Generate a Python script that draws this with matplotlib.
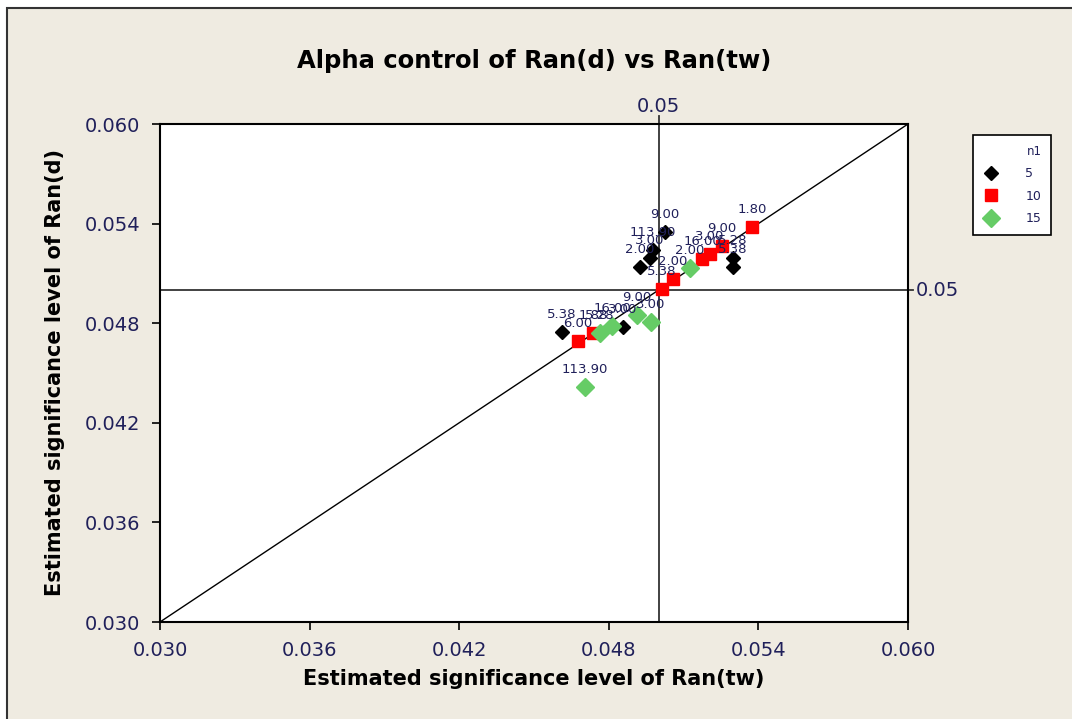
import matplotlib.pyplot as plt
from matplotlib.lines import Line2D
from matplotlib.patches import Rectangle

# Estimated significance levels, grouped by n1
tw_5 = [0.05025, 0.05298, 0.05298, 0.04925, 0.04965, 0.04977, 0.04612, 0.04857]
d_5 = [0.05349, 0.05193, 0.05139, 0.05139, 0.05193, 0.05241, 0.04747, 0.04777]
lab_5 = ["9.00", "5.28", "5.38", "2.00", "3.00", "113.90", "5.38", "3.00"]

tw_10 = [0.04676, 0.04737, 0.05013, 0.05058, 0.05174, 0.05206, 0.05254, 0.05374]
d_10 = [0.04693, 0.04741, 0.05006, 0.05066, 0.05187, 0.05217, 0.05265, 0.05380]
lab_10 = ["6.00", "1.88", "5.38", "2.00", "16.00", "3.00", "9.00", "1.80"]

tw_15 = [0.04705, 0.04765, 0.04813, 0.04913, 0.04969, 0.05126]
d_15 = [0.04416, 0.04741, 0.04783, 0.04849, 0.04807, 0.05132]
lab_15 = ["113.90", "5.28", "16.00", "9.00", "3.00", "2.00"]

ticks = [0.030, 0.036, 0.042, 0.048, 0.054, 0.060]
alpha = 0.05

bg = "#EFEBE1"
txt = "#20205a"

fig = plt.figure(figsize=(10.72, 7.19), dpi=100, facecolor="white")
fig.patches.append(Rectangle((7 / 1072, -0.05), 1.1, 1 - 8 / 719 + 0.05,
                             transform=fig.transFigure, facecolor=bg,
                             edgecolor="#333333", linewidth=1.5, zorder=-10))

ax = fig.add_axes([160 / 1072, 97 / 719, 748 / 1072, 498 / 719])
ax.set_facecolor("white")
ax.set_xlim(0.030, 0.060)
ax.set_ylim(0.030, 0.060)
ax.set_xticks(ticks)
ax.set_yticks(ticks)
ax.set_xticklabels(["%.3f" % t for t in ticks])
ax.set_yticklabels(["%.3f" % t for t in ticks])
ax.tick_params(direction="out", length=6, width=1.2, labelsize=14,
               labelcolor=txt, pad=8)
for s in ax.spines.values():
    s.set_linewidth(1.5)

# reference lines
ax.plot([0.030, 0.060], [0.030, 0.060], color="black", linewidth=1, zorder=1)
ax.plot([alpha, alpha], [0.030, 0.0605], color="#333333", linewidth=1.3,
        clip_on=False, zorder=1)
ax.plot([0.030, 0.0602], [alpha, alpha], color="#333333", linewidth=1.3,
        clip_on=False, zorder=1)
ax.text(alpha, 0.0605, "0.05", ha="center", va="bottom", fontsize=14, color=txt)
ax.text(0.0603, alpha, "0.05", ha="left", va="center", fontsize=14, color=txt)

groups = [
    (tw_5, d_5, lab_5, "black", "D", 7),
    (tw_10, d_10, lab_10, "#FF0000", "s", 9),
    (tw_15, d_15, lab_15, "#66CC66", "D", 9),
]
for xs, ys, labs, col, mk, ms in groups:
    ax.plot(xs, ys, linestyle="none", marker=mk, color=col, markersize=ms,
            zorder=3)
    for x, y, lab in zip(xs, ys, labs):
        ax.annotate(lab, (x, y), xytext=(0, 8), textcoords="offset points",
                    ha="center", va="bottom", fontsize=9.5, color=txt, zorder=4)

ax.set_title("Alpha control of Ran(d) vs Ran(tw)", fontsize=17.5,
             fontweight="bold", pad=40)
ax.set_xlabel("Estimated significance level of Ran(tw)", fontsize=15,
              fontweight="bold", labelpad=6)
ax.set_ylabel("Estimated significance level of Ran(d)", fontsize=15,
              fontweight="bold", labelpad=14)

handles = [
    Line2D([], [], linestyle="none", marker="D", color="black", markersize=7),
    Line2D([], [], linestyle="none", marker="s", color="#FF0000", markersize=9),
    Line2D([], [], linestyle="none", marker="D", color="#66CC66", markersize=9),
]
leg = fig.legend(handles, ["5", "10", "15"], title="n1",
                 loc="upper left", bbox_to_anchor=(973 / 1072, 1 - 135 / 719),
                 borderaxespad=0, fancybox=False, edgecolor="black",
                 framealpha=1, fontsize=9, title_fontsize=8.5,
                 alignment="right", handletextpad=2.2, handlelength=1.2,
                 borderpad=0.8, labelspacing=0.75)
leg.get_frame().set_linewidth(1.2)
for t in leg.get_texts():
    t.set_color(txt)
leg.get_title().set_color(txt)

fig.savefig("out.png", dpi=100, facecolor=fig.get_facecolor())
